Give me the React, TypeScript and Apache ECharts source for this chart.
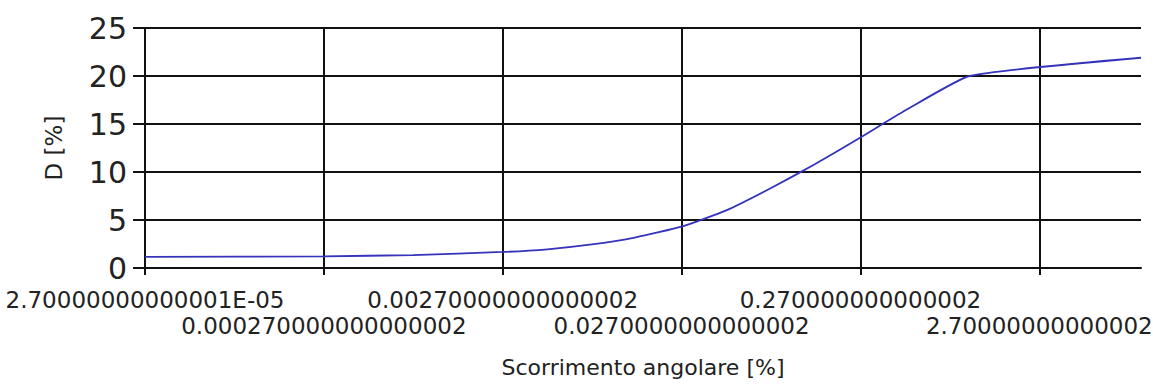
import React, { useEffect, useRef } from "react";
import * as echarts from "echarts";

// Shear strain [%] (log scale) and damping D [%]
const strain = [0.000027, 0.00027, 0.00085, 0.0027, 0.0048, 0.0085, 0.015, 0.027, 0.048, 0.085, 0.15, 0.27, 0.48, 1.1, 10];
const damping = [1.15, 1.22, 1.35, 1.67, 1.95, 2.45, 3.2, 4.3, 6.0, 8.3, 10.8, 13.6, 16.4, 20.0, 21.9];

// Axis tick labels as printed in the original chart
const xTickLabels = [
  "2.70000000000001E-05",
  "0.000270000000000002",
  "0.00270000000000002",
  "0.0270000000000002",
  "0.270000000000002",
  "2.70000000000002",
];
const xMinStrain = 0.000027;
const xMaxStrain = 10;
const yMin = 0;
const yMax = 25;
const yStep = 5;

const FONT = "DejaVu Sans";

const decades = (s: number) => Math.log10(s / xMinStrain);

export default function App() {
  const ref = useRef<HTMLDivElement>(null);

  useEffect(() => {
    if (!ref.current) return;
    const chart = echarts.init(ref.current, undefined, { renderer: "svg" });
    const tickPos = xTickLabels.map((_, i) => i);
    const evenPos = tickPos.filter((i) => i % 2 === 0);
    const oddPos = tickPos.filter((i) => i % 2 === 1);
    const black = "#111";
    const labelFmt = (v: number) => xTickLabels[Math.round(v)] ?? "";
    const xMax = decades(xMaxStrain);
    const labelBase = {
      showMinLabel: true,
      showMaxLabel: true,
      hideOverlap: false,
      fontFamily: FONT,
      fontSize: 23,
      color: "#222",
      formatter: labelFmt,
    };
    chart.setOption({
      animation: false,
      backgroundColor: "#fff",
      grid: { left: 145, right: 12, top: 28, bottom: 120, outerBoundsMode: "none" },
      xAxis: [
        {
          type: "value",
          position: "bottom",
          min: 0,
          max: xMax,
          interval: 1,
          name: "Scorrimento angolare [%]",
          nameLocation: "middle",
          nameGap: 88,
          nameTextStyle: { fontFamily: FONT, fontSize: 22, color: "#222" },
          axisLine: { show: true, lineStyle: { color: black, width: 2 } },
          axisTick: { show: true, length: 7, customValues: tickPos, lineStyle: { color: black, width: 2 } },
          axisLabel: { ...labelBase, customValues: evenPos, margin: 20 },
          splitLine: { show: true, lineStyle: { color: black, width: 2 } },
        },
        {
          type: "value",
          position: "bottom",
          min: 0,
          max: xMax,
          interval: 1,
          axisLine: { show: false },
          axisTick: { show: false },
          axisLabel: { ...labelBase, customValues: oddPos, margin: 46 },
          splitLine: { show: false },
        },
      ],
      yAxis: {
        type: "value",
        min: yMin,
        max: yMax,
        interval: yStep,
        name: "D [%]",
        nameLocation: "middle",
        nameRotate: 90,
        nameGap: 80,
        nameTextStyle: { fontFamily: FONT, fontSize: 23, color: "#222" },
        axisLine: { show: true, lineStyle: { color: black, width: 2 } },
        axisTick: { show: true, length: 12, lineStyle: { color: black, width: 2 } },
        axisLabel: { fontFamily: FONT, fontSize: 30, color: "#222", margin: 18 },
        splitLine: { show: true, lineStyle: { color: black, width: 2 } },
      },
      series: [
        {
          type: "line",
          xAxisIndex: 0,
          data: strain.map((s, i) => [decades(s), damping[i]]),
          showSymbol: false,
          smooth: 0.15,
          lineStyle: { color: "#3333bb", width: 1.8 },
          z: 5,
        },
      ],
    });
    return () => chart.dispose();
  }, []);

  return (
    <div
      ref={ref}
      style={{ position: "fixed", left: 0, top: 0, width: 1153, height: 388, background: "#fff" }}
    />
  );
}
